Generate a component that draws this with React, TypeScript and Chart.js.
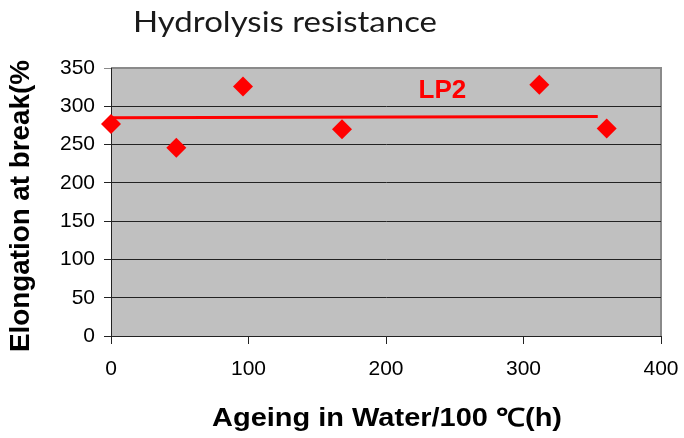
import React, { useEffect, useRef } from "react";
import { Chart, registerables } from "chart.js";

Chart.register(...registerables);

const ageingHours = [0, 47.5, 96, 168, 311.5, 360.5];
const elongation = [277, 246, 326, 270, 328, 271];
const trendX = [0, 354];
const trendY = [285, 286.5];
const seriesLabel = "LP2";
const labelPos = { x: 241, y: 320 };
const xTicks = [0, 100, 200, 300, 400];
const yTicks = [0, 50, 100, 150, 200, 250, 300, 350];
const chartTitle = "Hydrolysis resistance";
const xTitle = "Ageing in Water/100 ℃(h)";
const yTitle = "Elongation at break(%";

function drawFitted(
  ctx: CanvasRenderingContext2D,
  text: string,
  cx: number,
  cy: number,
  font: string,
  targetWidth: number,
  rotation: number,
  color: string
) {
  ctx.save();
  ctx.font = font;
  ctx.fillStyle = color;
  ctx.textAlign = "center";
  ctx.textBaseline = "middle";
  const w = ctx.measureText(text).width;
  const sx = w > 0 ? targetWidth / w : 1;
  ctx.translate(cx, cy);
  ctx.rotate(rotation);
  ctx.scale(sx, 1);
  ctx.fillText(text, 0, 0);
  ctx.restore();
}

export default function App() {
  const ref = useRef<HTMLCanvasElement | null>(null);

  useEffect(() => {
    document.body.style.margin = "0";
    const canvas = ref.current!;
    const bgPlugin = {
      id: "bgPlugin",
      beforeDraw(chart: any) {
        const { ctx, chartArea: a } = chart;
        ctx.save();
        ctx.fillStyle = "#ffffff";
        ctx.fillRect(0, 0, chart.width, chart.height);
        ctx.fillStyle = "#c0c0c0";
        ctx.fillRect(a.left, a.top, a.right - a.left, a.bottom - a.top);
        ctx.strokeStyle = "#8a8a8a";
        ctx.lineWidth = 2;
        ctx.beginPath();
        ctx.moveTo(a.left, a.top);
        ctx.lineTo(a.right, a.top);
        ctx.lineTo(a.right, a.bottom);
        ctx.stroke();
        ctx.restore();
      },
      afterDatasetsDraw(chart: any) {
        const { ctx } = chart;
        const xs = chart.scales.x;
        const ys = chart.scales.y;
        ctx.save();
        ctx.fillStyle = "#ff0000";
        ctx.font = "bold 26px 'Liberation Sans', Arial, sans-serif";
        ctx.textAlign = "center";
        ctx.textBaseline = "middle";
        ctx.fillText(seriesLabel, xs.getPixelForValue(labelPos.x), ys.getPixelForValue(labelPos.y));
        ctx.restore();
      },
      afterDraw(chart: any) {
        const { ctx, chartArea: a } = chart;
        drawFitted(ctx, chartTitle, 285, 23, "400 28px Lato, 'Open Sans', sans-serif", 304, 0, "#1a1a1a");
        drawFitted(
          ctx,
          xTitle,
          (a.left + a.right) / 2 + 1,
          419,
          "bold 25px 'Liberation Sans', Arial, sans-serif",
          350,
          0,
          "#000"
        );
        drawFitted(
          ctx,
          yTitle,
          22,
          206,
          "bold 27px 'Liberation Sans', Arial, sans-serif",
          292,
          -Math.PI / 2,
          "#000"
        );
      },
    };

    const chart = new Chart(canvas, {
      type: "scatter",
      data: {
        datasets: [
          {
            type: "scatter",
            label: seriesLabel,
            data: ageingHours.map((x, i) => ({ x, y: elongation[i] })),
            pointStyle: "rectRot",
            pointRadius: 10,
            pointBackgroundColor: "#ff0000",
            pointBorderColor: "#ff0000",
            pointBorderWidth: 0,
            showLine: false,
            clip: false,
          } as any,
          {
            type: "line",
            label: "trend",
            data: trendX.map((x, i) => ({ x, y: trendY[i] })),
            borderColor: "#ff0000",
            borderWidth: 3,
            pointRadius: 0,
            fill: false,
          } as any,
        ],
      },
      options: {
        responsive: false,
        animation: false,
        events: [],
        layout: { padding: { left: 0, right: 23, top: 68, bottom: 0 } },
        plugins: {
          legend: { display: false },
          tooltip: { enabled: false },
          title: { display: false },
        },
        scales: {
          x: {
            type: "linear",
            min: 0,
            max: 400,
            afterBuildTicks(scale: any) {
              scale.ticks = xTicks.map((v) => ({ value: v }));
            },
            afterFit(scale: any) {
              scale.height = 102;
              scale.paddingLeft = 0;
              scale.paddingRight = 0;
            },
            ticks: {
              color: "#000",
              font: { family: "'Liberation Sans', Arial, sans-serif", size: 21 },
              padding: 13,
              maxRotation: 0,
            },
            grid: {
              drawOnChartArea: false,
              drawTicks: true,
              tickLength: 8,
              color: "#222",
            },
            border: { display: true, color: "#222" },
          },
          y: {
            type: "linear",
            min: 0,
            max: 350,
            afterBuildTicks(scale: any) {
              scale.ticks = yTicks.map((v) => ({ value: v }));
            },
            afterFit(scale: any) {
              scale.width = 111;
              scale.paddingTop = 0;
              scale.paddingBottom = 0;
            },
            ticks: {
              color: "#000",
              font: { family: "'Liberation Sans', Arial, sans-serif", size: 21 },
              padding: 9,
            },
            grid: {
              drawTicks: true,
              tickLength: 7,
              color: (c: any) => (c.tick && c.tick.value === 350 ? "#8a8a8a" : "#222"),
            },
            border: { display: true, color: "#222" },
          },
        },
      },
      plugins: [bgPlugin],
    });
    return () => chart.destroy();
  }, []);

  return (
    <div style={{ position: "absolute", left: 0, top: 0, width: 684, height: 438 }}>
      <canvas ref={ref} width={684} height={438} style={{ display: "block" }} />
    </div>
  );
}
